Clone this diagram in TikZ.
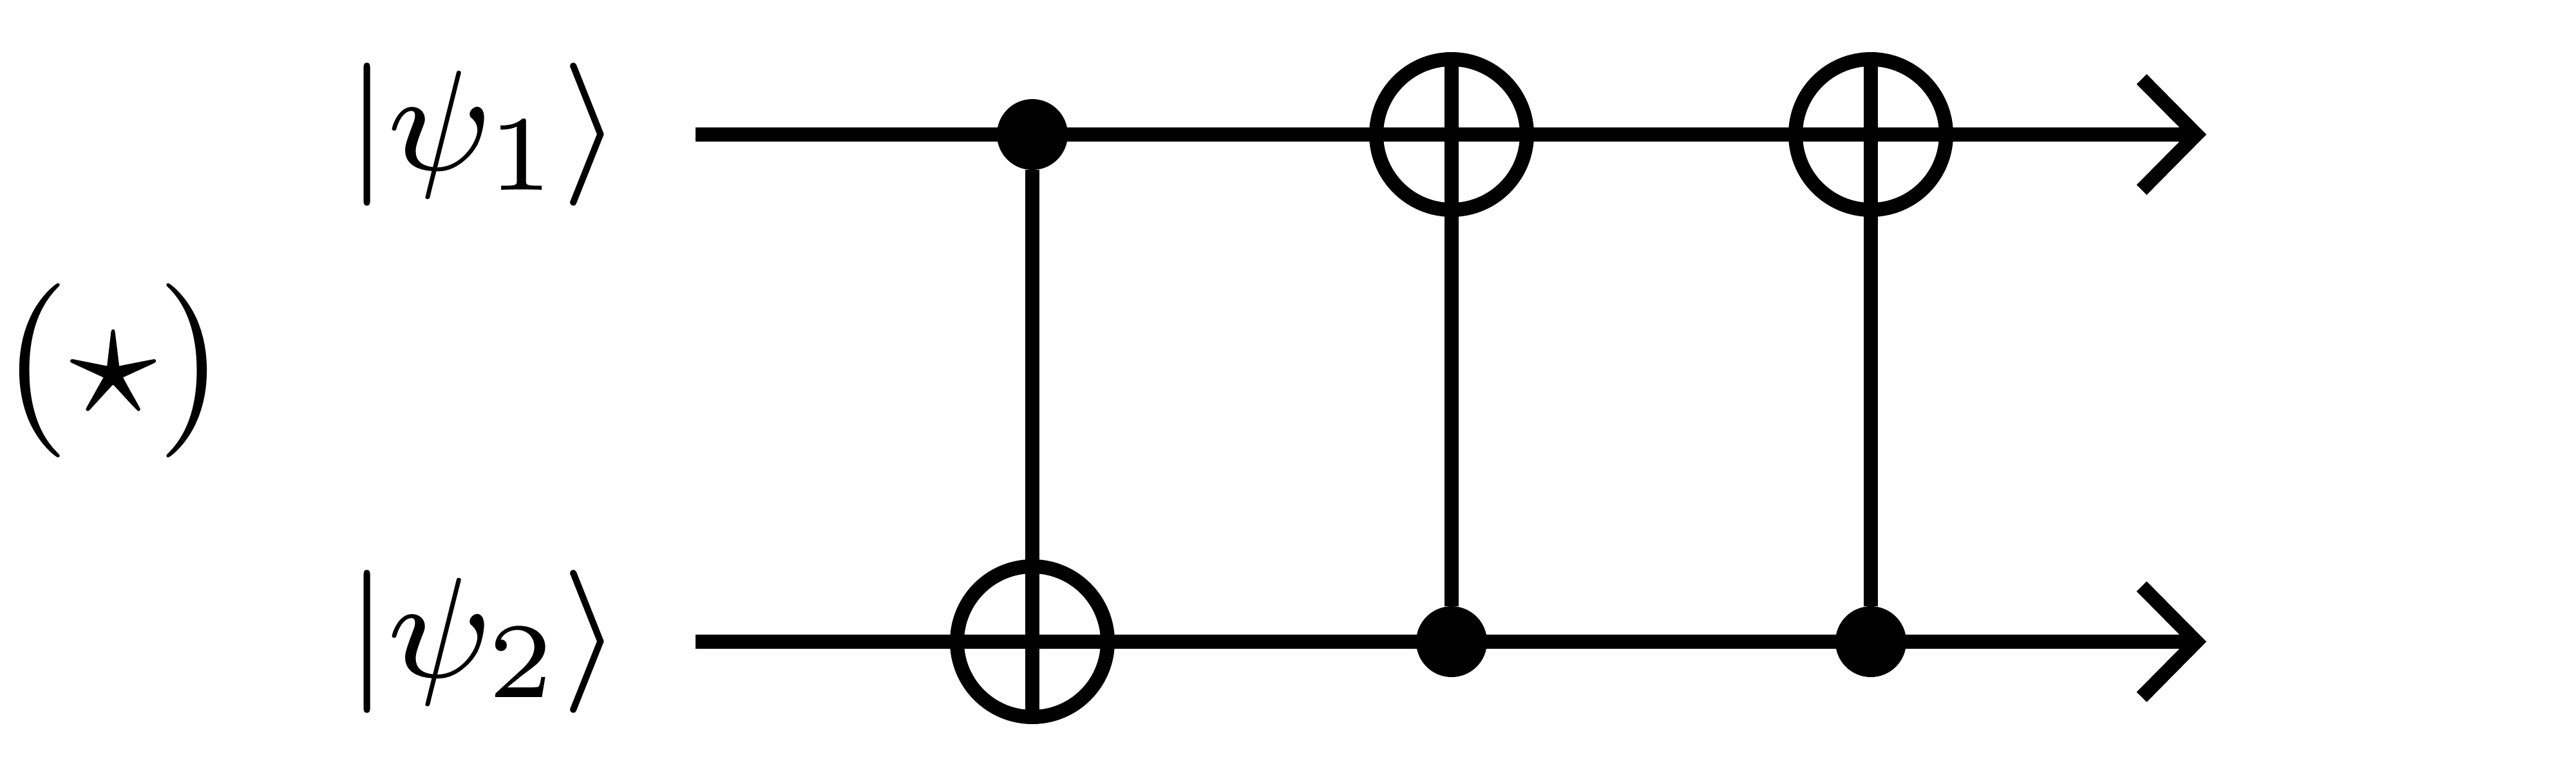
\documentclass[tikz,border=0pt]{standalone}
\usetikzlibrary{arrows.meta}
\tikzset{
    wire/.style={line width=0.22cm, line cap=butt},
    outwire/.style={wire, -{Straight Barb[length=0.85cm, width=1.72cm]}},
    ctrldot/.style={circle, fill=black, inner sep=0pt, outer sep=0pt, minimum size=1.10cm},
    target/.style={circle, draw=black, line width=0.22cm, inner sep=0pt, outer sep=0pt, minimum size=2.34cm},
    ketlabel/.style={inner sep=0pt, font=\footnotesize, scale=7.9},
    starlabel/.style={inner sep=0pt, scale=7.7}
}
\begin{document}
\begin{tikzpicture}
    \useasboundingbox (0,0) rectangle (40,12);
    \coordinate (inA) at (10.80,9.91);
    \coordinate (inB) at (10.80,2.03);
    \coordinate (outA) at (34.26,9.91);
    \coordinate (outB) at (34.26,2.03);
    \node[ketlabel] (ketA) at (7.51,9.91) {$|\psi_1\rangle$};
    \node[ketlabel] (ketB) at (7.51,2.03) {$|\psi_2\rangle$};
    \node[starlabel] (star) at (1.76,6.24) {$(\star)$};
    \node[ctrldot] (dotA) at (16.03,9.91) {};
    \node[target] (plusA) at (16.03,2.03) {};
    \node[target] (plusB) at (22.54,9.91) {};
    \node[ctrldot] (dotB) at (22.54,2.03) {};
    \node[target] (plusC) at (29.05,9.91) {};
    \node[ctrldot] (dotC) at (29.05,2.03) {};
    \draw[outwire] (inA) -- (outA);
    \draw[outwire] (inB) -- (outB);
    \draw[wire] (dotA) -- (plusA.south);
    \draw[wire] (dotB) -- (plusB.north);
    \draw[wire] (dotC) -- (plusC.north);
\end{tikzpicture}
\end{document}
